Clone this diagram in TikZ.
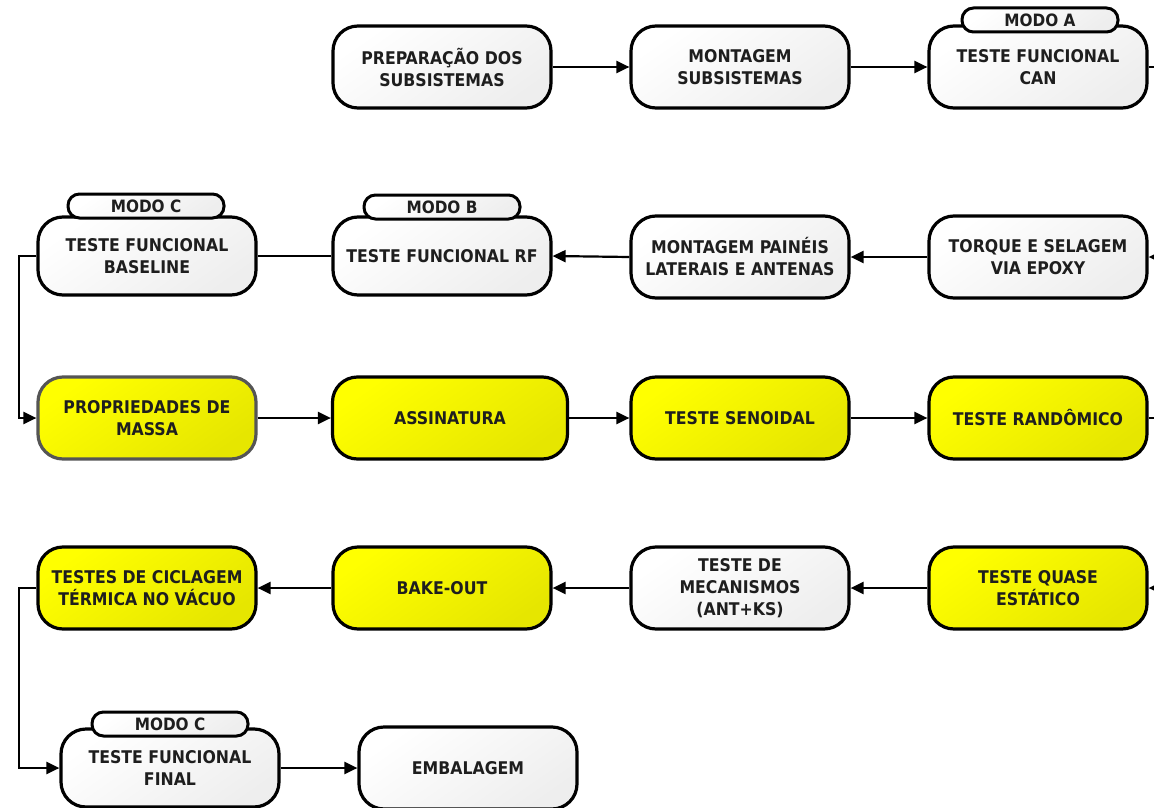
\documentclass[tikz,border=0pt]{standalone}
\usepackage{fontspec}
\setmainfont{DejaVu Sans Condensed}
\usetikzlibrary{arrows.meta}
\definecolor{txt}{HTML}{1E1E1E}
\definecolor{wend}{HTML}{EEEEEE}
\definecolor{ystart}{HTML}{FFFF00}
\definecolor{yend}{HTML}{E6E600}
\definecolor{pborder}{HTML}{555555}
\tikzset{
  box/.style={draw=black, line width=3.2pt, rounded corners=25pt,
    minimum width=218pt, minimum height=82pt, inner sep=2pt, align=center,
    text=txt, font=\bfseries\fontsize{17.5}{22}\selectfont,
    top color=white, bottom color=wend, shading angle=35},
  ybox/.style={box, top color=ystart, bottom color=yend, shading angle=35},
  tab/.style={draw=black, line width=3pt, rounded corners=11.5pt,
    minimum width=156pt, minimum height=24pt, inner sep=0pt,
    text=txt, font=\bfseries\fontsize{17}{18}\selectfont,
    top color=white, bottom color=wend, shading angle=35},
  conn/.style={line width=2.2pt, draw=black},
  arr/.style={conn, -{Triangle[length=13pt,width=12pt]}}
}
\begin{document}
\begin{tikzpicture}[x=1pt,y=-1pt]
\useasboundingbox (0,0) rectangle (1154,808);
% row 1
\node[box] (prep) at (442,67) {PREPARAÇÃO DOS\\SUBSISTEMAS};
\node[box] (mont) at (740,67) {MONTAGEM\\SUBSISTEMAS};
\node[box] (can) at (1038,67) {TESTE FUNCIONAL\\CAN};
\node[tab] (tA) at (1040,20) {MODO A};
% row 2
\node[box, minimum height=78pt] (base) at (147,256) {TESTE FUNCIONAL\\BASELINE};
\node[tab] (tC1) at (146,206) {MODO C};
\node[box, minimum height=78pt] (rf) at (442,256) {TESTE FUNCIONAL RF};
\node[tab] (tB) at (442,207) {MODO B};
\node[box] (pain) at (740,257) {MONTAGEM PAINÉIS\\LATERAIS E ANTENAS};
\node[box] (torq) at (1038,257) {TORQUE E SELAGEM\\VIA EPOXY};
% row 3
\node[ybox, draw=pborder] (prop) at (147,418) {PROPRIEDADES DE\\MASSA};
\node[ybox, minimum width=235pt] (ass) at (450,418) {ASSINATURA};
\node[ybox] (seno) at (740,418) {TESTE SENOIDAL};
\node[ybox] (rand) at (1038,418) {TESTE RANDÔMICO};
% row 4
\node[ybox] (cicl) at (147,588) {TESTES DE CICLAGEM\\TÉRMICA NO VÁCUO};
\node[ybox] (bake) at (442,588) {BAKE-OUT};
\node[box] (mec) at (740,588) {TESTE DE\\MECANISMOS\\(ANT+KS)};
\node[ybox] (quas) at (1038,588) {TESTE QUASE\\ESTÁTICO};
% row 5
\node[box, minimum height=78pt] (final) at (170,768) {TESTE FUNCIONAL\\FINAL};
\node[tab] (tC2) at (170,724) {MODO C};
\node[box] (emb) at (468,768) {EMBALAGEM};
% frame-edge coordinates
\coordinate (e1) at (1154,67);
\coordinate (e2) at (1154,257);
\coordinate (e3) at (1154,418);
\coordinate (e4) at (1154,588);
\coordinate (l2) at (19,256);
\coordinate (l3) at (19,418);
\coordinate (l4) at (19,588);
\coordinate (l5) at (19,768);
% connectors
\draw[arr] (prep.east) -- (mont.west);
\draw[arr] (mont.east) -- (can.west);
\draw[conn] (can.east) -- (e1);
\draw[arr] (e2) -- (torq.east);
\draw[arr] (torq.west) -- (pain.east);
\draw[arr] (pain.west) -- (rf.east);
\draw[conn] (rf.west) -- (base.east);
\draw[arr] (base.west) -- (l2) -- (l3) -- (prop.west);
\draw[arr] (prop.east) -- (ass.west);
\draw[arr] (ass.east) -- (seno.west);
\draw[arr] (seno.east) -- (rand.west);
\draw[conn] (rand.east) -- (e3);
\draw[arr] (e4) -- (quas.east);
\draw[arr] (quas.west) -- (mec.east);
\draw[arr] (mec.west) -- (bake.east);
\draw[arr] (bake.west) -- (cicl.east);
\draw[arr] (cicl.west) -- (l4) -- (l5) -- (final.west);
\draw[arr] (final.east) -- (emb.west);
\end{tikzpicture}
\end{document}
